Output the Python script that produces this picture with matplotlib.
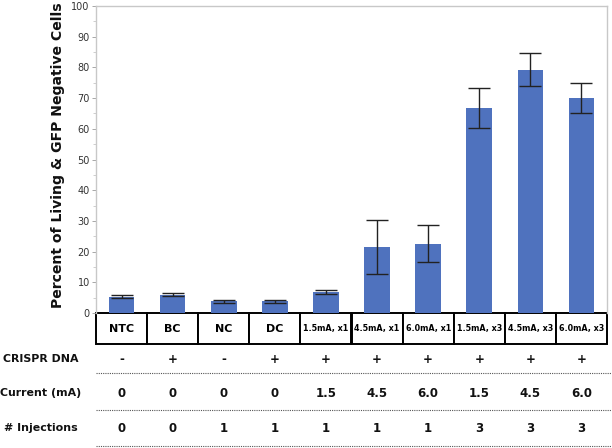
import matplotlib
matplotlib.use("Agg")
import matplotlib.pyplot as plt
import matplotlib.transforms as mtransforms
from matplotlib.lines import Line2D
from matplotlib.ticker import MultipleLocator

groups = ["NTC", "BC", "NC", "DC", "1.5mA, x1", "4.5mA, x1", "6.0mA, x1",
          "1.5mA, x3", "4.5mA, x3", "6.0mA, x3"]
values = [5.3, 6.0, 3.8, 3.8, 6.8, 21.5, 22.6, 66.8, 79.3, 70.0]
errors = [0.5, 0.5, 0.4, 0.4, 0.7, 8.8, 6.0, 6.5, 5.5, 5.0]
crispr = ["-", "+", "-", "+", "+", "+", "+", "+", "+", "+"]
current = ["0", "0", "0", "0", "1.5", "4.5", "6.0", "1.5", "4.5", "6.0"]
injections = ["0", "0", "1", "1", "1", "1", "1", "3", "3", "3"]
row_labels = ["CRISPR DNA", "Current (mA)", "# Injections"]
y_label = "Percent of Living & GFP Negative Cells"

W, H = 612, 448
fig = plt.figure(figsize=(W / 100, H / 100), dpi=100)
ax_l, ax_r, ax_b, ax_t = 96, 607, 313, 6
ax = fig.add_axes([ax_l / W, 1 - ax_b / H, (ax_r - ax_l) / W, (ax_b - ax_t) / H])

x = list(range(len(groups)))
ax.bar(x, values, width=0.5, color="#4f72be", zorder=2)
ax.errorbar(x, values, yerr=errors, fmt="none", ecolor="#222222",
            elinewidth=1.0, capsize=8, capthick=1.0, zorder=3)

ax.set_xlim(-0.5, len(groups) - 0.5)
ax.set_ylim(0, 100)
ax.yaxis.set_major_locator(MultipleLocator(10))
ax.yaxis.set_minor_locator(MultipleLocator(5))
ax.tick_params(axis="y", which="major", length=3, width=0.6, color="#999999",
               labelsize=7, labelcolor="#333333", pad=1.5)
ax.tick_params(axis="y", which="minor", length=2, width=0.5, color="#bbbbbb")
ax.set_xticks([])
for s in ["left", "top", "right"]:
    ax.spines[s].set_color("#c8c8c8")
    ax.spines[s].set_linewidth(1.0)
ax.spines["bottom"].set_visible(False)

fig.text(58 / W, 1 - 155 / H, y_label, rotation=90, ha="center", va="center",
         fontsize=10.1, fontweight="bold", color="#111111")

# table of group names under the axes
th = (344 - 313) / (ax_b - ax_t)
tbl = ax.table(cellText=[groups], cellLoc="center", bbox=[0, -th, 1, th])
tbl.auto_set_font_size(False)
for i, g in enumerate(groups):
    c = tbl[(0, i)]
    c.set_linewidth(1.4)
    c.set_edgecolor("black")
    c.PAD = 0.02
    t = c.get_text()
    t.set_fontweight("bold")
    t.set_fontsize(8 if i < 4 else 5.8)

# rows below
trans = mtransforms.blended_transform_factory(ax.transData, fig.transFigure)
row_y = [359, 393, 428]
line_y = [373, 410, 446]
rows = [crispr, current, injections]
for lbl, ry, ly, vals in zip(row_labels, row_y, line_y, rows):
    fig.text(41 / W, 1 - ry / H, lbl, ha="center", va="center",
             fontsize=7.9, fontweight="bold", color="#111111")
    for xi, v in zip(x, vals):
        ax.text(xi, 1 - ry / H, v, transform=trans, ha="center", va="center",
                fontsize=8.5, fontweight="bold", color="#111111", clip_on=False)
    fig.add_artist(Line2D([ax_l / W, 1.0], [1 - ly / H, 1 - ly / H],
                          transform=fig.transFigure, color="#555555",
                          linewidth=0.8, linestyle=(0, (1, 1))))

fig.savefig("out.png", dpi=100)
